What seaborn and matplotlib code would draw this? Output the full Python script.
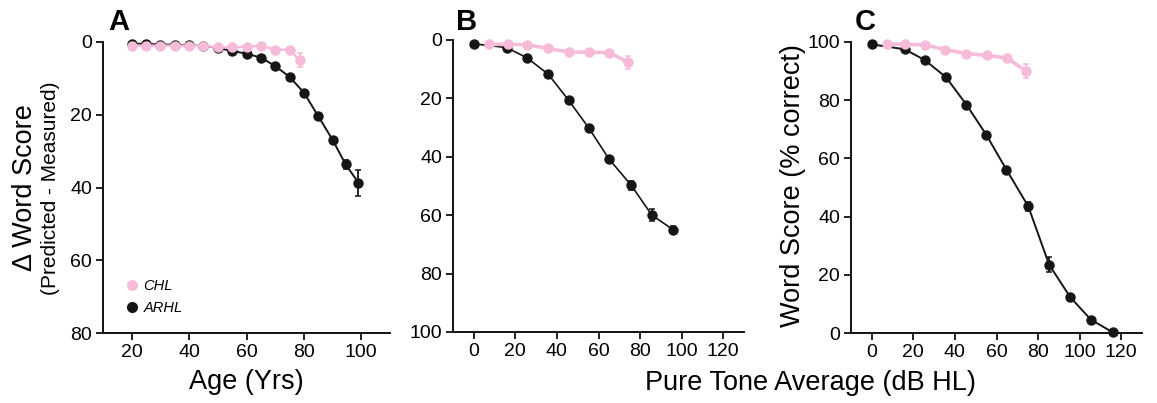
import numpy as np
import pandas as pd
import matplotlib
matplotlib.use("Agg")
import matplotlib.pyplot as plt
import seaborn as sns
from matplotlib.lines import Line2D

sns.set_theme(style="ticks")
plt.rcParams['font.family'] = ['Liberation Sans', 'DejaVu Sans']
plt.rcParams['text.color'] = 'black'
plt.rcParams['axes.labelcolor'] = 'black'

# ---- Panel A: age vs delta word score
age_arhl = [20, 25, 30, 35, 40, 45, 50, 55, 60, 65, 70, 75, 80, 85, 90, 94.5, 99]
dws_arhl = [0.5, 0.5, 0.7, 0.7, 0.9, 1.1, 1.6, 2.5, 3.2, 4.3, 6.6, 9.6, 13.9, 20.4, 26.9, 33.6, 38.7]
err_a_arhl = [0.2, 0.2, 0.2, 0.2, 0.2, 0.2, 0.2, 0.2, 0.3, 0.3, 0.4, 0.5, 0.6, 0.7, 0.8, 1.2, 3.5]
age_chl = [20, 25, 30, 35, 40, 45, 50, 55, 60, 65, 70, 75, 78.5]
dws_chl = [1.0, 1.0, 1.0, 1.0, 1.0, 1.1, 1.4, 1.5, 1.3, 1.0, 2.1, 2.1, 5.0]
err_a_chl = [0.3, 0.3, 0.3, 0.3, 0.3, 0.3, 0.3, 0.3, 0.3, 0.4, 0.5, 0.6, 2.0]

# ---- Panel B: PTA vs delta word score
pta_b_arhl = [0, 15.8, 25.6, 35.8, 45.6, 55.4, 65.1, 75.8, 85.6, 95.7]
dws_b_arhl = [1.3, 2.6, 6.1, 11.7, 20.6, 30.2, 40.8, 49.8, 59.9, 64.9]
err_b_arhl = [0.2, 0.3, 0.4, 0.5, 0.6, 0.7, 0.9, 1.5, 2.0, 1.2]
pta_b_chl = [7.5, 16.3, 25.6, 35.8, 45.6, 55.4, 65.1, 74.4]
dws_b_chl = [1.5, 1.5, 1.6, 2.9, 4.1, 4.2, 4.3, 7.7]
err_b_chl = [0.3, 0.3, 0.3, 0.4, 0.5, 0.6, 0.8, 2.2]

# ---- Panel C: PTA vs word score
pta_c_arhl = [0, 15.8, 25.5, 35.7, 45.5, 55.0, 64.8, 75.3, 85.3, 95.5, 105.4, 116]
ws_c_arhl = [99.2, 97.5, 93.8, 87.9, 78.5, 68.2, 56.1, 43.5, 23.5, 12.3, 4.6, 0.2]
err_c_arhl = [0.2, 0.3, 0.4, 0.5, 0.7, 0.8, 0.9, 1.5, 2.5, 1.2, 0.8, 0.3]
pta_c_chl = [7.5, 15.8, 25.6, 35.4, 45.5, 55.2, 65.0, 74.2]
ws_c_chl = [99.3, 99.2, 99.0, 97.4, 96.0, 95.4, 94.5, 90.1]
err_c_chl = [0.3, 0.3, 0.3, 0.4, 0.5, 0.6, 0.8, 2.5]

PINK = "#F5BBD8"
BLACK = "#161616"

fig = plt.figure(figsize=(11.57, 4.03), dpi=100)
axA = fig.add_axes([103/1157, 1-333/403, 287/1157, 291/403])
axB = fig.add_axes([453/1157, 1-332/403, 291/1157, 292/403])
axC = fig.add_axes([851/1157, 1-333/403, 291/1157, 291/403])


def draw(ax, x, y, e, color, lw, zorder):
    df = pd.DataFrame({"x": x, "y": y})
    ax.errorbar(x, y, yerr=e, fmt="none", ecolor=color, elinewidth=1.3,
                capsize=2, capthick=1.1, zorder=zorder, clip_on=False)
    sns.lineplot(data=df, x="x", y="y", ax=ax, color=color, lw=lw,
                 marker="o", markersize=7.5, markeredgewidth=0,
                 markeredgecolor=color, zorder=zorder, clip_on=False,
                 legend=False, sort=False)


draw(axA, age_arhl, dws_arhl, err_a_arhl, BLACK, 1.4, 3)
draw(axA, age_chl, dws_chl, err_a_chl, PINK, 1.8, 4)
draw(axB, pta_b_arhl, dws_b_arhl, err_b_arhl, BLACK, 1.2, 3)
draw(axB, pta_b_chl, dws_b_chl, err_b_chl, PINK, 2.6, 4)
draw(axC, pta_c_arhl, ws_c_arhl, err_c_arhl, BLACK, 1.4, 3)
draw(axC, pta_c_chl, ws_c_chl, err_c_chl, PINK, 2.6, 4)

tick_fs = 14
for ax in (axA, axB, axC):
    sns.despine(ax=ax)
    ax.spines['left'].set_linewidth(1.4)
    ax.spines['bottom'].set_linewidth(1.4)
    ax.spines['left'].set_color("#111111")
    ax.spines['bottom'].set_color("#111111")
    ax.tick_params(axis="both", direction="out", length=5, width=1.3,
                   labelsize=tick_fs, colors="#111111", labelcolor="black", pad=3)
    ax.set_xlabel("")
    ax.set_ylabel("")
    ax.grid(False)

axA.set_xlim(10, 110)
axA.set_ylim(80, 0)
axA.set_xticks([20, 40, 60, 80, 100])
axA.set_yticks([0, 20, 40, 60, 80])
axA.set_xlabel("Age (Yrs)", fontsize=19.5, labelpad=6)

axB.set_xlim(-10, 130)
axB.set_ylim(100, 0)
axB.set_xticks([0, 20, 40, 60, 80, 100, 120])
axB.set_yticks([0, 20, 40, 60, 80, 100])

axC.set_xlim(-10, 130)
axC.set_ylim(0, 100)
axC.set_xticks([0, 20, 40, 60, 80, 100, 120])
axC.set_yticks([0, 20, 40, 60, 80, 100])

fig.text(793/1157, 1-186/403, "Word Score (% correct)", rotation=90,
         fontsize=19.5, ha="center", va="center")

# y label for A: two lines with different sizes
fig.text(25/1157, 1-188/403, "\u0394 Word Score", rotation=90, fontsize=19.5,
         ha="center", va="center")
fig.text(51/1157, 1-188/403, "(Predicted - Measured)", rotation=90, fontsize=15,
         ha="center", va="center")

fig.text(810/1157, 1-383/403, "Pure Tone Average (dB HL)", fontsize=19.5,
         ha="center", va="center")

# panel letters
for lab, xp in (("A", 119), ("B", 467), ("C", 865)):
    fig.text(xp/1157, 1-22/403, lab, fontsize=21, fontweight="bold",
             ha="center", va="center")

# legend
handles = [Line2D([0], [0], marker="o", color="none", markerfacecolor=PINK,
                  markeredgewidth=0, markersize=8, label="CHL"),
           Line2D([0], [0], marker="o", color="none", markerfacecolor=BLACK,
                  markeredgewidth=0, markersize=8, label="ARHL")]
leg = axA.legend(handles=handles, loc="upper left",
                 bbox_to_anchor=(0.055, 0.205), frameon=False,
                 prop={"style": "italic", "size": 10.5}, handletextpad=0.3,
                 handlelength=1.0, labelspacing=0.55, borderaxespad=0)

fig.savefig("out.png", dpi=100)
